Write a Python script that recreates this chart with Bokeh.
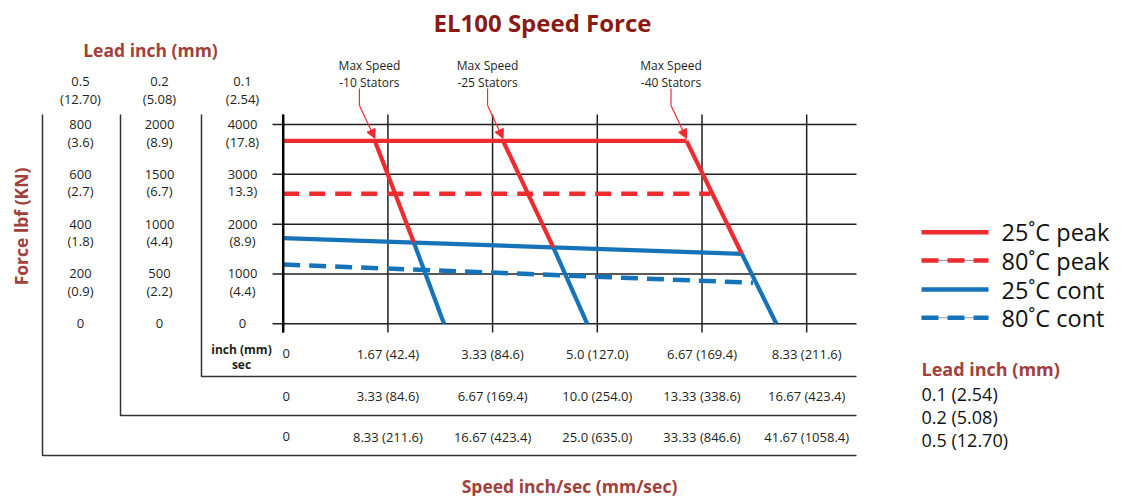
from bokeh.plotting import figure
from bokeh.models import Range1d, Arrow, NormalHead
from bokeh.core.properties import value
from bokeh.embed import file_html
from bokeh.resources import INLINE
import math

# ------------------------------------------------------------------ data
title = "EL100 Speed Force"
lead_title = "Lead inch (mm)"
y_title = "Force lbf (KN)"
x_title = "Speed inch/sec (mm/sec)"

lead_in = ["0.5", "0.2", "0.1"]
lead_mm = ["(12.70)", "(5.08)", "(2.54)"]

force_ticks = [0, 1000, 2000, 3000, 4000]          # lbf, 0.1 inch lead
force_lbf_05 = ["0", "200", "400", "600", "800"]
force_kn_05 = ["", "(0.9)", "(1.8)", "(2.7)", "(3.6)"]
force_lbf_02 = ["0", "500", "1000", "1500", "2000"]
force_kn_02 = ["", "(2.2)", "(4.4)", "(6.7)", "(8.9)"]
force_lbf_01 = ["0", "1000", "2000", "3000", "4000"]
force_kn_01 = ["", "(4.4)", "(8.9)", "13.3)", "(17.8)"]

speed_ticks = [0, 1.667, 3.333, 5.0, 6.667, 8.333]   # inch/sec, 0.1 inch lead
speed_01 = ["0", "1.67 (42.4)", "3.33 (84.6)", "5.0 (127.0)", "6.67 (169.4)", "8.33 (211.6)"]
speed_02 = ["0", "3.33 (84.6)", "6.67 (169.4)", "10.0 (254.0)", "13.33 (338.6)", "16.67 (423.4)"]
speed_05 = ["0", "8.33 (211.6)", "16.67 (423.4)", "25.0 (635.0)", "33.33 (846.6)", "41.67 (1058.4)"]
speed_unit = ["inch (mm)", "sec"]

peak25_x = [0, 6.42]
peak25_y = [3670, 3670]
peak80_x = [0, 6.80]
peak80_y = [2610, 2610]
cont25_x = [0, 7.30]
cont25_y = [1720, 1405]
cont80_x = [0, 7.48]
cont80_y = [1190, 823]

stators = ["-10 Stators", "-25 Stators", "-40 Stators"]
maxspd_top_x = [1.46, 3.50, 6.42]
maxspd_knee_x = [2.08, 4.30, 7.30]
maxspd_knee_y = [1630, 1535, 1405]
maxspd_zero_x = [2.56, 4.84, 7.85]

legend_labels = ["25˚C peak", "80˚C peak", "25˚C cont", "80˚C cont"]
lead_legend = ["0.1 (2.54)", "0.2 (5.08)", "0.5 (12.70)"]

# ------------------------------------------------------------------ layout / style
RED = "#EE2B2F"
BLUE = "#1673BA"
INK = "#231F20"
TITLE_C = "#8A1B14"
LABEL_C = "#A0413B"
FONT = "Open Sans"

W, H, OFF = 1121, 496, 0
X0, SX = 282.7, 62.82      # page px of speed 0, px per inch/sec
Y0, SY = 323.3, 0.049825   # page px of force 0, px per lbf


def X(px):
    return (px - X0) / SX


def Y(py):
    return (Y0 - py) / SY


def dx(px):
    return px / SX


def dy(py):
    return py / SY


p = figure(width=W, height=H, output_backend="svg", toolbar_location=None,
           x_range=Range1d(X(OFF), X(OFF + W)), y_range=Range1d(Y(OFF + H), Y(OFF)),
           x_axis_type=None, y_axis_type=None, min_border=0,
           outline_line_color=None, background_fill_color="white",
           border_fill_color="white")
p.grid.visible = False


def txt(xs, ys, ts, size, color=INK, bold=False, align="center",
        baseline="middle", angle=0.0):
    p.text(x=list(xs), y=list(ys), text=list(ts), text_font=value(FONT),
           text_font_size=value(f"{size}px"),
           text_font_style="bold" if bold else "normal",
           text_color=color, text_align=align, text_baseline=baseline,
           angle=angle)


# grid
p.segment(x0=[X(272)] * len(force_ticks), x1=[X(856)] * len(force_ticks),
          y0=force_ticks, y1=force_ticks, line_color=INK, line_width=1.5)
p.segment(x0=speed_ticks, x1=speed_ticks, y0=[Y(114)] * len(speed_ticks),
          y1=[Y(332)] * len(speed_ticks), line_color=INK, line_width=1.5)

# lead columns boxes
col_cx = [80, 159, 242]
col_lx = [42, 120, 201]
col_bottom = [455, 415, 376]
for lx, bt in zip(col_lx, col_bottom):
    p.line([X(lx), X(lx), X(856)], [Y(114), Y(bt), Y(bt)],
           line_color="#333333", line_width=1.5)

# data lines
p.line(peak80_x, peak80_y, line_color=RED, line_width=4.5, line_dash="16 10")
p.line(cont80_x, cont80_y, line_color=BLUE, line_width=4.5, line_dash="17 9")
p.line(cont25_x, cont25_y, line_color=BLUE, line_width=4.2)
p.line(peak25_x, peak25_y, line_color=RED, line_width=4.2)
for tx, kx, ky, zx in zip(maxspd_top_x, maxspd_knee_x, maxspd_knee_y, maxspd_zero_x):
    p.line([tx, kx], [peak25_y[0], ky], line_color=RED, line_width=4.2)
    p.line([kx, zx], [ky, 0], line_color=BLUE, line_width=4.2)

# y axis line
p.line([0, 0], [Y(114), Y(332)], line_color="black", line_width=2.5)

# max speed annotations
label_shift = [10, 0, 0]
for i, (tx, lab) in enumerate(zip(maxspd_top_x, stators)):
    vx = tx - dx(15.5)
    tip_y = peak25_y[0] + dy(2.5)
    p.line([vx, vx], [Y(88), Y(105)], line_color=RED, line_width=1.2)
    p.add_layout(Arrow(end=NormalHead(size=9, line_color=RED, fill_color=RED,
                                      line_width=1),
                       x_start=vx, y_start=Y(105), x_end=tx, y_end=tip_y,
                       line_color=RED, line_width=1.2))
    cx = vx + dx(label_shift[i])
    txt([cx, cx], [Y(65), Y(81.7)], ["Max Speed", lab], 12)

# titles
txt([X(542)], [Y(22)], [title], 24, color=TITLE_C, bold=True)
txt([X(150)], [Y(49)], [lead_title], 17.5, color=LABEL_C, bold=True)
txt([X(20)], [Y(226)], [y_title], 17.5, color=LABEL_C, bold=True, angle=math.pi / 2)
txt([X(569)], [Y(485)], [x_title], 17.5, color=LABEL_C, bold=True)

# lead column headers and force labels
txt([X(c) for c in col_cx], [Y(80.7)] * 3, lead_in, 13)
txt([X(c) for c in col_cx], [Y(98)] * 3, lead_mm, 13)
for c, l1, l2 in zip(col_cx, [force_lbf_05, force_lbf_02, force_lbf_01],
                     [force_kn_05, force_kn_02, force_kn_01]):
    txt([X(c)] * len(force_ticks), force_ticks, l1, 13)
    txt([X(c)] * len(force_ticks), [f - dy(17) for f in force_ticks], l2, 13)

# speed rows
sx = [t + (dx(3) if t == 0 else 0) for t in speed_ticks]
for row_y, labs in zip([353, 395.7, 436], [speed_01, speed_02, speed_05]):
    txt(sx, [Y(row_y)] * len(sx), labs, 13)
txt([X(241), X(241)], [Y(349), Y(364)], speed_unit, 12, bold=True)

# legend
leg_y = [231.7, 260, 289, 317.3]
leg_c = [RED, RED, BLUE, BLUE]
leg_dash = [False, True, False, True]
for ly, c, d in zip(leg_y, leg_c, leg_dash):
    if d:
        p.line([X(921), X(988)], [Y(ly), Y(ly)], line_color="#9A9A9A", line_width=1)
        p.line([X(921), X(988)], [Y(ly), Y(ly)], line_color=c, line_width=4.5,
               line_dash="17 9")
    else:
        p.line([X(921), X(988)], [Y(ly), Y(ly)], line_color=c, line_width=4.5)
txt([X(1001)] * 4, [Y(v) for v in leg_y], legend_labels, 23.5, color="#111111",
    align="left")

txt([X(921)], [Y(368)], [lead_title], 18, color=LABEL_C, bold=True, align="left")
txt([X(921)] * 3, [Y(393), Y(416), Y(439)], lead_legend, 18, color="#111111",
    align="left")

open("out.html", "w").write(file_html(p, INLINE))
